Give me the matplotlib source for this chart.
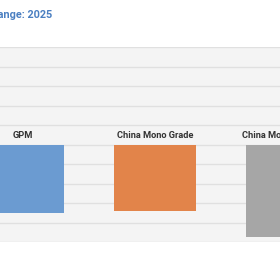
import numpy as np
import matplotlib
matplotlib.use("Agg")
import matplotlib.pyplot as plt

plt.rcParams['font.family'] = ['Roboto', 'DejaVu Sans']

# chart data (negative price change, %)
categories = ["GPM", "China Mono Grade", "China Mono Premium"]
values = [-17.6, -17.1, -23.7]
colors = ["#6b9bd1", "#e2844a", "#a6a6a6"]
title = "Price Change: 2025"

fig = plt.figure(figsize=(2.8, 2.8), dpi=100)
fig.patch.set_facecolor("white")

# axes span the whole width; chart is a crop of a wider one
ax = fig.add_axes([0, 38/280, 1, 195/280])
ax.set_facecolor("#f4f4f4")

x = np.arange(len(categories))
ax.bar(x, values, width=0.62, color=colors, zorder=3)

for xi, name in zip(x, categories):
    ax.text(xi, 1.1, name, ha="center", va="bottom", fontsize=6.7,
            fontweight="bold", color="#333333", zorder=4)

ax.set_xlim(-23/132, (280-23)/132)
ax.set_ylim(-25, 25)
ax.set_yticks(np.arange(-25, 26, 5))
ax.yaxis.grid(True, color="#e0e0e0", linewidth=1.0, zorder=0)
ax.set_axisbelow(True)
ax.tick_params(left=False, bottom=False, labelleft=False, labelbottom=False)
for s in ax.spines.values():
    s.set_visible(False)

fig.text(52/280, 1 - 15/280, title, ha="right", va="center",
         fontsize=7.8, fontweight="bold", color="#4a7fc1")

fig.savefig("out.png", dpi=100)
